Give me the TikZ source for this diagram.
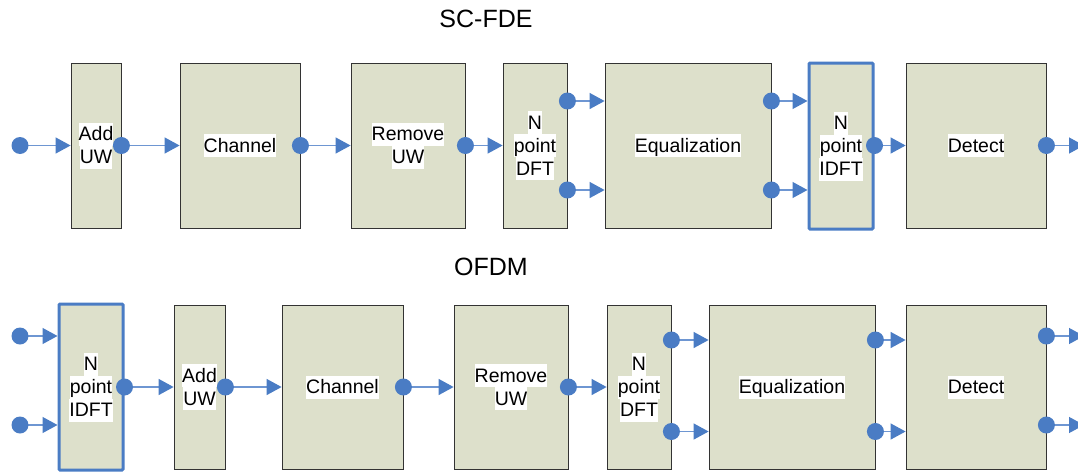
\documentclass[tikz,border=0pt]{standalone}
\usepackage{fontspec}
\setmainfont{Liberation Sans}
\usetikzlibrary{arrows.meta}
\definecolor{boxfill}{RGB}{221,224,203}
\definecolor{dotblue}{RGB}{74,124,196}
\definecolor{lineblue}{RGB}{110,150,210}
\newcommand{\wl}[1]{{\setlength{\fboxsep}{0pt}\colorbox{white}{\rule[-5pt]{0pt}{23pt}#1}}}
\begin{document}
\begin{tikzpicture}[x=1pt,y=-1pt,
  blk/.style={draw=black!80, line width=0.8pt, fill=boxfill, inner sep=0pt,
    font=\fontsize{19.5}{23}\selectfont, align=center},
  hl/.style={blk, draw=dotblue, line width=3pt, rounded corners=1pt},
  dot/.style={circle, fill=dotblue, minimum size=17pt, inner sep=0pt},
  arr/.style={draw=lineblue, line width=1.3pt, -{Triangle[length=15pt,width=16pt,color=dotblue]}},
  ttl/.style={font=\fontsize{25}{28}\selectfont, inner sep=0pt}]
\useasboundingbox (0,0) rectangle (1078,471);
\clip (0,0) rectangle (1078,471);
% titles
\node[ttl] (t1) at (486,18.5) {SC-FDE};
\node[ttl] (t2) at (491,267) {OFDM};
% ---------- SC-FDE row ----------
\node[blk, minimum width=50pt, minimum height=165pt] (addA) at (96,145.5) {\wl{Add}\\\wl{UW}};
\node[blk, minimum width=120pt, minimum height=165pt] (chA) at (240,145.5) {\wl{Channel}};
\node[blk, minimum width=114pt, minimum height=165pt] (remA) at (408,145.5) {\wl{Remove}\\\wl{UW}};
\node[blk, minimum width=64pt, minimum height=165pt] (dftA) at (535,145.5) {\wl{N}\\\wl{point}\\\wl{DFT}};
\node[blk, minimum width=166pt, minimum height=165pt] (eqA) at (688,145.5) {\wl{Equalization}};
\node[hl, minimum width=64pt, minimum height=166pt] (idftA) at (841,146) {\wl{N}\\\wl{point}\\\wl{IDFT}};
\node[blk, minimum width=140pt, minimum height=165pt] (detA) at (976,145.5) {\wl{Detect}};
\coordinate (rA1) at (0,101);
\coordinate (rA2) at (0,190);
\coordinate (outA) at (1084,145.5);
% ---------- OFDM row ----------
\node[hl, minimum width=64pt, minimum height=166pt] (idftB) at (91,387) {\wl{N}\\\wl{point}\\\wl{IDFT}};
\node[blk, minimum width=51pt, minimum height=164pt] (addB) at (199.5,387) {\wl{Add}\\\wl{UW}};
\node[blk, minimum width=121pt, minimum height=164pt] (chB) at (342.5,387) {\wl{Channel}};
\node[blk, minimum width=114pt, minimum height=164pt] (remB) at (511,387) {\wl{Remove}\\\wl{UW}};
\node[blk, minimum width=64pt, minimum height=164pt] (dftB) at (639,387) {\wl{N}\\\wl{point}\\\wl{DFT}};
\node[blk, minimum width=166pt, minimum height=164pt] (eqB) at (792,387) {\wl{Equalization}};
\node[blk, minimum width=140pt, minimum height=164pt] (detB) at (976,387) {\wl{Detect}};
\coordinate (rB3) at (0,340);
\coordinate (rB4) at (0,431.5);
% ---------- free ends ----------
\coordinate (ina) at (20,145.5);
\coordinate (inb1) at (20,336);
\coordinate (inb2) at (20,425);
\coordinate (outB1) at (1084,336);
\coordinate (outB2) at (1084,425);
% ---------- arrows (top) ----------
\draw[arr] (ina) -- (addA.west);
\draw[arr] (addA.east) -- (chA.west);
\draw[arr] (chA.east) -- (remA.west);
\draw[arr] (remA.east) -- (dftA.west);
\draw[arr] (dftA.east |- rA1) -- (eqA.west |- rA1);
\draw[arr] (dftA.east |- rA2) -- (eqA.west |- rA2);
\draw[arr] (eqA.east |- rA1) -- (idftA.west |- rA1);
\draw[arr] (eqA.east |- rA2) -- (idftA.west |- rA2);
\draw[arr] (idftA.east |- ina) -- (detA.west);
\draw[arr] (detA.east) -- (outA);
% ---------- arrows (bottom) ----------
\draw[arr] (inb1) -- (idftB.west |- inb1);
\draw[arr] (inb2) -- (idftB.west |- inb2);
\draw[arr] (idftB.east) -- (addB.west);
\draw[arr] (addB.east) -- (chB.west);
\draw[arr] (chB.east) -- (remB.west);
\draw[arr] (remB.east) -- (dftB.west);
\draw[arr] (dftB.east |- rB3) -- (eqB.west |- rB3);
\draw[arr] (dftB.east |- rB4) -- (eqB.west |- rB4);
\draw[arr] (eqB.east |- rB3) -- (detB.west |- rB3);
\draw[arr] (eqB.east |- rB4) -- (detB.west |- rB4);
\draw[arr] (detB.east |- outB1) -- (outB1);
\draw[arr] (detB.east |- outB2) -- (outB2);
% ---------- dots ----------
\node[dot] (da0) at (ina) {};
\node[dot] (da1) at (addA.east) {};
\node[dot] (da2) at (chA.east) {};
\node[dot] (da3) at (remA.east) {};
\node[dot] (da4) at (dftA.east |- rA1) {};
\node[dot] (da5) at (dftA.east |- rA2) {};
\node[dot] (da6) at (eqA.east |- rA1) {};
\node[dot] (da7) at (eqA.east |- rA2) {};
\node[dot] (da8) at (idftA.east |- ina) {};
\node[dot] (da9) at (detA.east) {};
\node[dot] (db0) at (inb1) {};
\node[dot] (db1) at (inb2) {};
\node[dot] (db2) at (idftB.east) {};
\node[dot] (db3) at (addB.east) {};
\node[dot] (db4) at (chB.east) {};
\node[dot] (db5) at (remB.east) {};
\node[dot] (db6) at (dftB.east |- rB3) {};
\node[dot] (db7) at (dftB.east |- rB4) {};
\node[dot] (db8) at (eqB.east |- rB3) {};
\node[dot] (db9) at (eqB.east |- rB4) {};
\node[dot] (db10) at (detB.east |- outB1) {};
\node[dot] (db11) at (detB.east |- outB2) {};
\end{tikzpicture}
\end{document}
